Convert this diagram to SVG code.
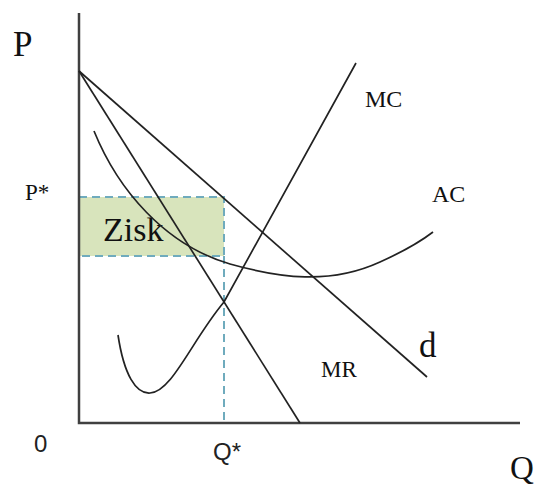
<svg xmlns="http://www.w3.org/2000/svg" width="536" height="489" viewBox="0 0 536 489">
<style>
.axis{stroke:#404040;stroke-width:2.5;fill:none}
.curve{stroke:#222;stroke-width:1.7;fill:none}
.dash{stroke:#6fabbd;stroke-width:2;stroke-dasharray:8 5;fill:none}
.lbl{font-family:"Liberation Serif","Times New Roman",serif;fill:#111}
.sans{font-family:"Liberation Sans",Arial,sans-serif;fill:#222}
</style>
<rect width="536" height="489" fill="#fff"/>
<g id="profit">
<rect x="79" y="197" width="145" height="59" fill="#d8e4bc"/>
<path class="dash" d="M79,197 H224 V256 H79"/>
<path class="dash" d="M224,256 V423" stroke-width="1.6"/>
<text class="lbl" x="103" y="241" font-size="34">Zisk</text>
</g>
<g id="axes">
<path class="axis" d="M79,13 V423 H520"/>
<text class="lbl" x="13" y="56" font-size="35">P</text>
<text class="lbl" x="510" y="479" font-size="33">Q</text>
<text class="lbl" x="25" y="200" font-size="23">P*</text>
<text class="sans" x="34" y="452" font-size="24">0</text>
<text class="sans" x="213" y="460" font-size="24">Q*</text>
</g>
<g id="connectors">
<g id="d"><path class="curve" d="M79,71 L427,377"/><text class="lbl" x="419" y="357" font-size="35">d</text></g>
<g id="MR"><path class="curve" d="M79,71 L300,423"/><text class="lbl" x="321" y="377" font-size="23">MR</text></g>
<g id="MC"><path class="curve" d="M118,335 C124,375 136,394 150,393 C172,392 192,340 224,302 L356,63"/><text class="lbl" x="365" y="107" font-size="24">MC</text></g>
<g id="AC"><path class="curve" d="M94,131 C118,190 165,245 230,264 C280,278 330,285 380,262 C400,253 420,242 433,232"/><text class="lbl" x="432" y="202" font-size="24">AC</text></g>
</g>
</svg>
